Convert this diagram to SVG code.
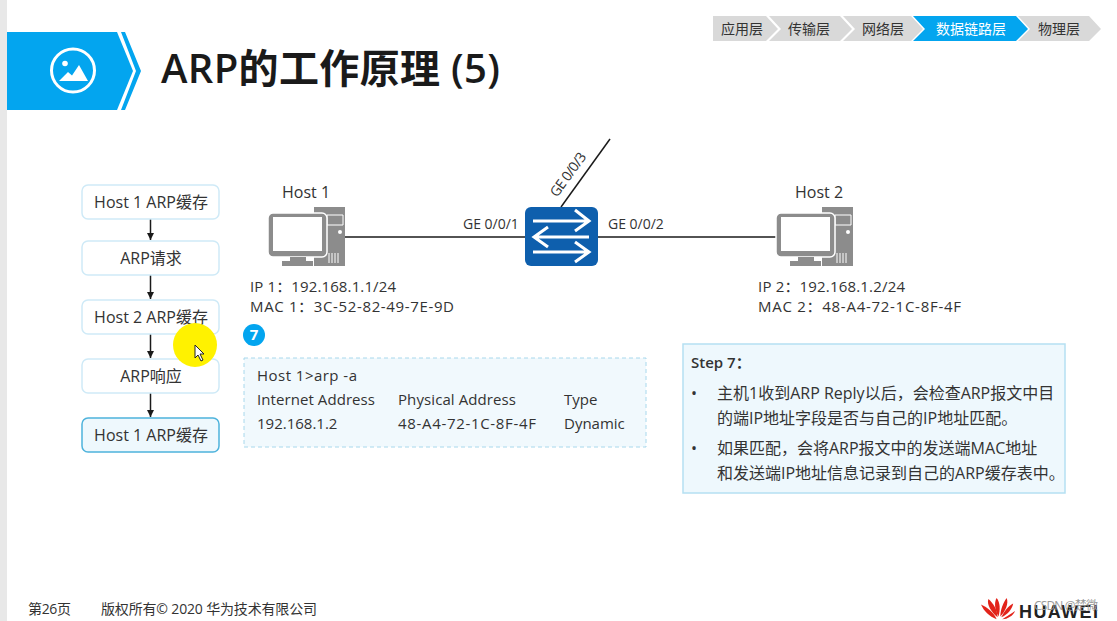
<svg xmlns="http://www.w3.org/2000/svg" width="1117" height="621" viewBox="0 0 1117 621">
<style>
text{font-family:"Open Sans","Noto Sans CJK SC",sans-serif;fill:#333}
.t{font-size:15px}
.m{font-size:16px}
.c{text-anchor:middle}
.g{font-size:14px}
.b{fill:#fff;stroke:#cfeaf7;stroke-width:1.5}
.a{fill:#d9d9d9}
.l{stroke:#1a1a1a;stroke-width:1.5;fill:none}
.pc{fill:#8c8c8c}
</style>
<defs>
<marker id="ah" markerWidth="8" markerHeight="8" refX="7" refY="3.5" orient="auto" markerUnits="userSpaceOnUse"><path d="M0 0L7 3.5L0 7z" fill="#1a1a1a"/></marker>
<g id="pc">
<path class="pc" d="M46 0H77V59H46z"/>
<path d="M59 8H75V18H59z" fill="none" stroke="#fff" stroke-width="1"/>
<circle cx="72" cy="25" r="2" fill="#fff"/>
<path d="M61 46V56M64 46V56M67 46V56M70 46V56" stroke="#fff" stroke-width="1"/>
<rect x="0" y="6" width="59" height="44" rx="5" class="pc" stroke="#fff" stroke-width="1.5"/>
<rect x="5" y="10" width="49" height="34" fill="#fff"/>
<path d="M22 50H38V54H22z" class="pc"/>
<path d="M14 54H45V59H14z" class="pc"/>
</g>
</defs>
<rect width="1117" height="621" fill="#fff"/>
<rect width="7" height="621" fill="#e8e8e8"/>
<g id="header">
<path d="M7 32H117L133 71L117 110H7z" fill="#03a5ef"/>
<path d="M121 32H125L141 71L125 110H121L136 71z" fill="#03a5ef"/>
<circle cx="73" cy="70.500" r="21.500" fill="none" stroke="#fff" stroke-width="3"/>
<circle cx="65" cy="63.500" r="2.800" fill="#fff"/>
<path d="M59 81L68 72L72 75.500L79 65L88 81z" fill="#fff"/>
<text x="161" y="83" font-size="40" font-weight="600" textLength="339" style="fill:#1a1a1a">ARP的工作原理 (5)</text>
</g>
<g id="breadcrumb">
<path class="a" d="M713 16H766L778 29L766 41H713z"/>
<path class="a" d="M769 16H840L852 29L840 41H769L781 29z"/>
<path class="a" d="M843 16H911L923 29L911 41H843L855 29z"/>
<path d="M913 16H1016L1028 29L1016 41H913L925 29z" fill="#03a5ef"/>
<path class="a" d="M1018 16H1089L1101 29L1089 41H1018L1030 29z"/>
<text class="c" x="742" y="34" font-size="14">应用层</text>
<text class="c" x="809" y="34" font-size="14">传输层</text>
<text class="c" x="883" y="34" font-size="14">网络层</text>
<text class="c" x="971" y="34" font-size="14" style="fill:#fff">数据链路层</text>
<text class="c" x="1059" y="34" font-size="14">物理层</text>
</g>
<g id="connectors">
<path class="l" d="M345 237H526"/>
<path class="l" d="M598 237H777"/>
<path class="l" d="M561 207L610 139"/>
<path class="l" d="M150.500 219V240" marker-end="url(#ah)"/>
<path class="l" d="M150.500 275V299" marker-end="url(#ah)"/>
<path class="l" d="M150.500 334V358" marker-end="url(#ah)"/>
<path class="l" d="M150.500 393V417" marker-end="url(#ah)"/>
</g>
<g id="flow1"><rect class="b" x="82" y="185" width="137" height="34" rx="6"/><text class="m c" x="151" y="208">Host 1 ARP缓存</text></g>
<g id="flow2"><rect class="b" x="82" y="241" width="137" height="34" rx="6"/><text class="m c" x="151" y="264">ARP请求</text></g>
<g id="flow3"><rect class="b" x="82" y="300" width="137" height="34" rx="6"/><text class="m c" x="151" y="323">Host 2 ARP缓存</text></g>
<g id="flow4"><rect class="b" x="82" y="359" width="137" height="34" rx="6"/><text class="m c" x="151" y="382">ARP响应</text></g>
<g id="flow5"><rect x="82" y="418" width="137" height="34" rx="6" fill="#eef8fd" stroke="#4eb3dc" stroke-width="1.5"/><text class="m c" x="151" y="441">Host 1 ARP缓存</text></g>
<g id="cursor">
<circle cx="195" cy="345" r="22" fill="#fff200"/>
<path d="M195 345V358L198 355L201 361L203 360L200 354L204 354z" fill="#fff" stroke="#222" stroke-width="1"/>
</g>
<g id="host1">
<text class="m c" x="306" y="198">Host 1</text>
<use href="#pc" x="268" y="207"/>
<text class="t" x="250" y="292" textLength="146">IP 1：192.168.1.1/24</text>
<text class="t" x="250" y="312" textLength="204">MAC 1：3C-52-82-49-7E-9D</text>
</g>
<g id="switch">
<rect x="525" y="207" width="73" height="59" rx="6" fill="#0e5fad"/>
<path d="M533 221H587M575 210L589 221L575 231M589 237H536M548 227L534 237L548 247M533 252H587M575 242L589 252L575 262" fill="none" stroke="#fff" stroke-width="3"/>
<text class="g" x="463" y="229">GE 0/0/1</text>
<text class="g" x="608" y="229">GE 0/0/2</text>
<text class="g" transform="translate(557 198) rotate(-54)" textLength="51">GE 0/0/3</text>
</g>
<g id="host2">
<text class="m c" x="819" y="198">Host 2</text>
<use href="#pc" x="776" y="207"/>
<text class="t" x="758" y="292" textLength="147">IP 2：192.168.1.2/24</text>
<text class="t" x="758" y="312" textLength="203">MAC 2：48-A4-72-1C-8F-4F</text>
</g>
<g id="badge"><circle cx="254" cy="335" r="11" fill="#03a5ef"/><text class="c" x="254" y="340" font-size="15" font-weight="700" style="fill:#fff">7</text></g>
<g id="arp-table">
<rect x="244" y="358" width="402" height="89" fill="#f1f9fd" stroke="#a8d8ec" stroke-dasharray="4 3"/>
<text class="t" x="257" y="381" textLength="100">Host 1&gt;arp -a</text>
<text class="t" x="257" y="405" textLength="118">Internet Address</text><text class="t" x="398" y="405" textLength="118">Physical Address</text><text class="t" x="564" y="405">Type</text>
<text class="t" x="257" y="429">192.168.1.2</text><text class="t" x="398" y="429" textLength="138">48-A4-72-1C-8F-4F</text><text class="t" x="564" y="429">Dynamic</text>
</g>
<g id="step">
<rect x="683" y="344" width="382" height="149" fill="#eef8fd" stroke="#b5e0f2" stroke-width="1.500"/>
<text x="691" y="368" font-size="15" font-weight="600">Step 7：</text>
<text class="m" x="691" y="399">•</text><text class="m" x="717" y="399">主机1收到ARP Reply以后，会检查ARP报文中目</text>
<text class="m" x="717" y="424">的端IP地址字段是否与自己的IP地址匹配。</text>
<text class="m" x="691" y="454">•</text><text class="m" x="717" y="454">如果匹配，会将ARP报文中的发送端MAC地址</text>
<text class="m" x="717" y="479">和发送端IP地址信息记录到自己的ARP缓存表中。</text>
</g>
<g id="footer">
<text x="28" y="614" font-size="14" textLength="43">第26页</text>
<text x="101" y="614" font-size="14" textLength="216">版权所有© 2020 华为技术有限公司</text>
<g fill="#e2231a" transform="translate(981 598) scale(.92) translate(-981 -597)"><path d="M998 620C990 617 984 611 981 604C988 607 995 613 998 620z"/><path d="M999 618C992 612 987 604 989 598C994 602 999 610 999 618z"/><path d="M1000 617C996 610 995 602 998 597C1002 602 1002 610 1000 617z"/><path d="M1002 617C1002 610 1005 602 1009 597C1011 603 1008 611 1002 617z"/><path d="M1003 618C1006 612 1011 605 1016 603C1015 609 1010 615 1003 618z"/><path d="M1004 620C1009 617 1015 613 1018 611C1016 616 1010 620 1004 620z"/></g>
<text x="1019" y="618" font-size="18" font-weight="700" textLength="79" style="fill:#222;font-family:'Liberation Sans',sans-serif">HUAWEI</text>
<text x="1034" y="610" font-size="12" textLength="64" style="fill:#999">CSDN @楚微</text>
</g>
</svg>
